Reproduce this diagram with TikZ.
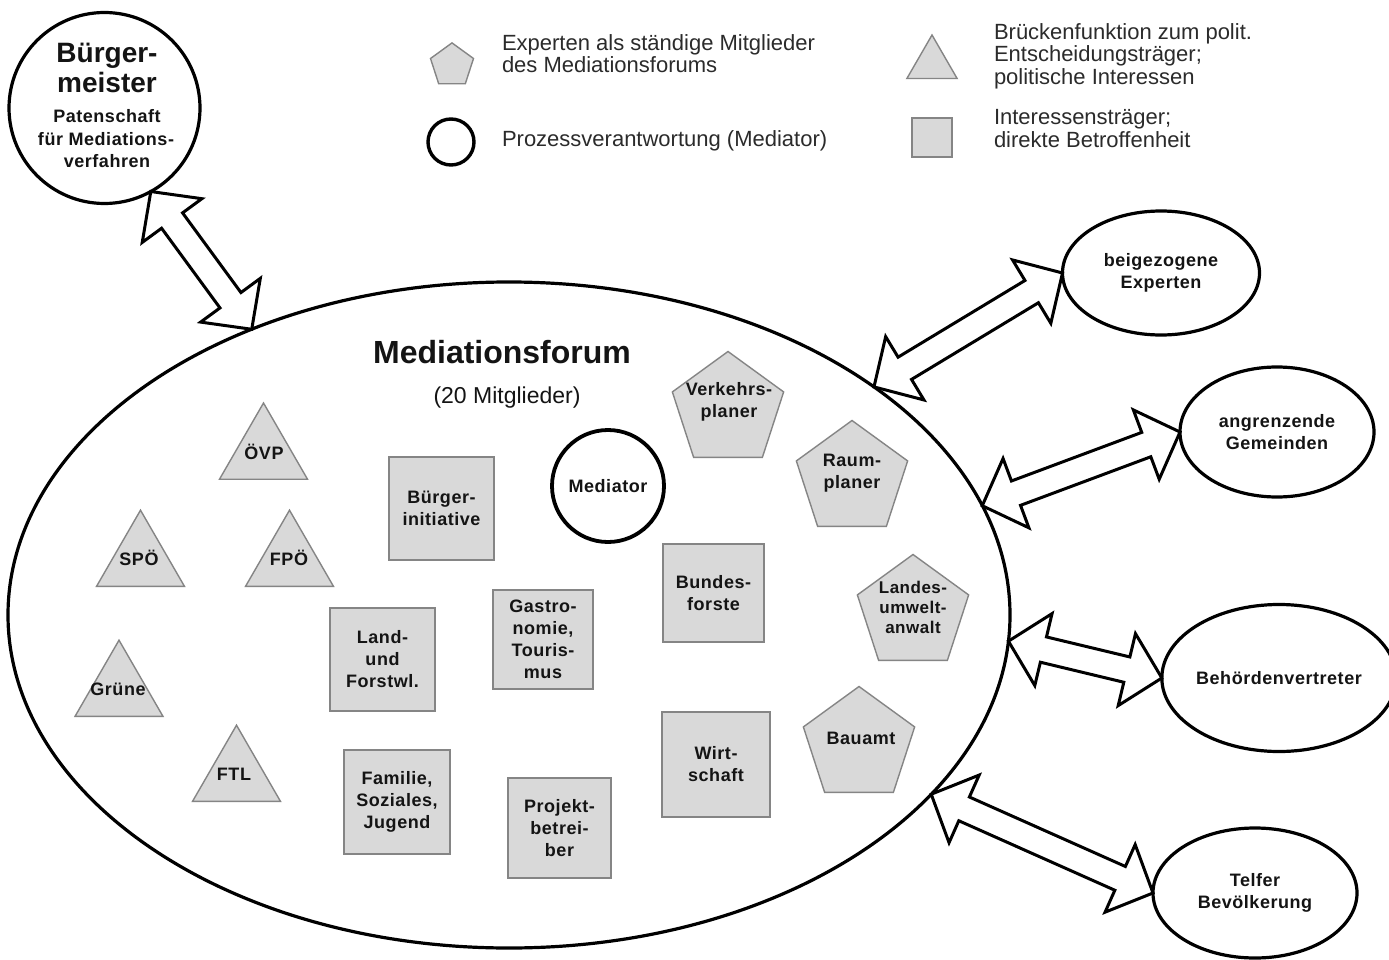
\documentclass[tikz,border=0pt]{standalone}
\usepackage{fontspec}
\setmainfont{Liberation Sans}
\newfontfamily\trackedsans[LetterSpace=3]{Liberation Sans}
\usetikzlibrary{shapes.geometric,calc}

\definecolor{memberfill}{HTML}{D9D9D9}
\definecolor{memberedge}{HTML}{858585}
\definecolor{legendink}{HTML}{2B2B2B}
\definecolor{labelink}{HTML}{141414}

\newcommand\labelfont{\trackedsans\bfseries\fontsize{18}{22}\selectfont}

% geometry of the double-headed block arrows
\newcommand\arrowHead{36pt}
\newcommand\arrowWing{37pt}
\newcommand\arrowShaft{13pt}
\newcommand\twoway[2]{%
  \draw[blockarrow] (#1)
    -- ($(#1)!\arrowHead!(#2)!\arrowWing!90:(#2)$)
    -- ($(#1)!\arrowHead!(#2)!\arrowShaft!90:(#2)$)
    -- ($(#2)!\arrowHead!(#1)!\arrowShaft!-90:(#1)$)
    -- ($(#2)!\arrowHead!(#1)!\arrowWing!-90:(#1)$)
    -- (#2)
    -- ($(#2)!\arrowHead!(#1)!\arrowWing!90:(#1)$)
    -- ($(#2)!\arrowHead!(#1)!\arrowShaft!90:(#1)$)
    -- ($(#1)!\arrowHead!(#2)!\arrowShaft!-90:(#2)$)
    -- ($(#1)!\arrowHead!(#2)!\arrowWing!-90:(#2)$)
    -- cycle;}

\begin{document}
\begin{tikzpicture}[x=1pt,y=-1pt,
  every node/.style={inner sep=0pt,outer sep=0pt},
  heavy/.style={draw=black,line width=3.2pt,fill=white},
  blockarrow/.style={draw=black,line width=3pt,fill=white,line join=miter},
  member/.style={draw=memberedge,line width=1.4pt,fill=memberfill},
  partytri/.style={member,regular polygon,regular polygon sides=3,minimum size=101.6pt},
  expertpent/.style={member,regular polygon,regular polygon sides=5,minimum size=117pt},
  stakebox/.style={member,rectangle,align=center,font=\labelfont,text=labelink},
  lbl/.style={align=center,font=\labelfont,text=labelink},
  outertxt/.style={align=center,font=\trackedsans\bfseries\fontsize{18}{22.5}\selectfont,text=labelink},
  legendtxt/.style={anchor=base west,font=\fontsize{22}{26}\selectfont,text=legendink}]

\fill[white] (0,0) rectangle (1389,960);
\useasboundingbox (0,0) rectangle (1389,960);

% legend
\node[expertpent,minimum size=45.2pt] (legPent) at (452,65.5) {};
\node[heavy,circle,minimum size=46pt,line width=3.4pt] (legCirc) at (451,142) {};
\node[partytri,minimum size=58pt] (legTri) at (932,64) {};
\node[member,rectangle,minimum width=40pt,minimum height=39pt] (legBox) at (932,137.5) {};
\node[legendtxt] (legA1) at (502,51) {Experten als ständige Mitglieder};
\node[legendtxt] (legA2) at (502,73) {des Mediationsforums};
\node[legendtxt] (legB1) at (502,147) {Prozessverantwortung (Mediator)};
\node[legendtxt] (legC1) at (994,40) {Brückenfunktion zum polit.};
\node[legendtxt] (legC2) at (994,62) {Entscheidungsträger;};
\node[legendtxt] (legC3) at (994,85) {politische Interessen};
\node[legendtxt] (legD1) at (994,125) {Interessensträger;};
\node[legendtxt] (legD2) at (994,148) {direkte Betroffenheit};

% mayor
\node[heavy,circle,minimum size=191pt] (bm) at (104.5,108) {};
\node[anchor=base,font=\bfseries\fontsize{28}{30}\selectfont,text=labelink] (bmT1) at (107,63) {Bürger-};
\node[anchor=base,font=\bfseries\fontsize{28}{30}\selectfont,text=labelink] (bmT2) at (107,93) {meister};
\node[anchor=base,font=\labelfont,text=labelink] (bmS1) at (107,123) {Patenschaft};
\node[anchor=base,font=\labelfont,text=labelink] (bmS2) at (106,146) {für Mediations-};
\node[anchor=base,font=\labelfont,text=labelink] (bmS3) at (107,168) {verfahren};

% the forum
\node[heavy,ellipse,minimum width=1002pt,minimum height=666pt] (forum) at (509,615) {};
\node[anchor=base,font=\bfseries\fontsize{32}{36}\selectfont,text=labelink] (forumTitle) at (502,363) {Mediationsforum};
\node[anchor=base,font=\fontsize{23}{26}\selectfont,text=labelink] (forumCount) at (507,403) {(20 Mitglieder)};

% outside parties
\node[heavy,ellipse,minimum width=197pt,minimum height=124pt,outertxt] (experts) at (1161,273) {beigezogene\\Experten};
\node[heavy,ellipse,minimum width=194pt,minimum height=130pt,outertxt] (towns) at (1277,432) {angrenzende\\Gemeinden};
\node[heavy,ellipse,minimum width=217pt,minimum height=147pt,outertxt] (officials) at (1279,678) {Behördenvertreter};
\node[heavy,ellipse,minimum width=204pt,minimum height=130pt,outertxt] (public) at (1255,893) {Telfer\\Bevölkerung};

% mediator
\node[heavy,circle,minimum size=112pt,line width=3.8pt,lbl] (mediator) at (608,486) {Mediator};

% political parties
\node[partytri] (oevp) at (263.5,453.8) {};
\node[partytri] (spoe) at (140.5,561) {};
\node[partytri] (fpoe) at (289.5,561) {};
\node[partytri] (gruene) at (119,691) {};
\node[partytri] (ftl) at (236.5,776) {};
\node[lbl,anchor=base] (oevpL) at (264,459) {ÖVP};
\node[lbl,anchor=base] (spoeL) at (139,565) {SPÖ};
\node[lbl,anchor=base] (fpoeL) at (289,565) {FPÖ};
\node[lbl,anchor=base] (grueneL) at (118,695) {Grüne};
\node[lbl,anchor=base] (ftlL) at (234,780) {FTL};

% experts
\node[expertpent] (traffic) at (728,410) {};
\node[expertpent] (spatial) at (852,479) {};
\node[expertpent] (environ) at (913,613) {};
\node[expertpent] (building) at (859,745) {};
\node[lbl] (trafficL) at (729,402) {Verkehrs-\\planer};
\node[lbl] (spatialL) at (852,473) {Raum-\\planer};
\node[lbl,font=\trackedsans\bfseries\fontsize{17}{20}\selectfont] (environL) at (913,607) {Landes-\\umwelt-\\anwalt};
\node[lbl] (buildingL) at (861,738) {Bauamt};

% stakeholders
\node[stakebox,minimum width=105pt,minimum height=103pt] (citizens) at (441.5,508.5) {Bürger-\\initiative};
\node[stakebox,minimum width=105pt,minimum height=103pt] (farming) at (382.5,659.5) {Land-\\und\\Forstwl.};
\node[stakebox,minimum width=106pt,minimum height=104pt] (family) at (397,802) {Familie,\\Soziales,\\Jugend};
\node[stakebox,minimum width=100pt,minimum height=99pt] (tourism) at (543,639.5) {Gastro-\\nomie,\\Touris-\\mus};
\node[stakebox,minimum width=103pt,minimum height=100pt] (developer) at (559.5,828) {Projekt-\\betrei-\\ber};
\node[stakebox,minimum width=101pt,minimum height=98pt] (forests) at (713.5,593) {Bundes-\\forste};
\node[stakebox,minimum width=108pt,minimum height=105pt] (economy) at (716,764.5) {Wirt-\\schaft};

% links between the forum and its surroundings
\twoway{bm.-61.6}{forum.132.7}
\twoway{forum.32.9}{experts.west}
\twoway{forum.13.1}{towns.west}
\twoway{forum.-3.7}{officials.west}
\twoway{forum.-23.3}{public.west}
\end{tikzpicture}
\end{document}
